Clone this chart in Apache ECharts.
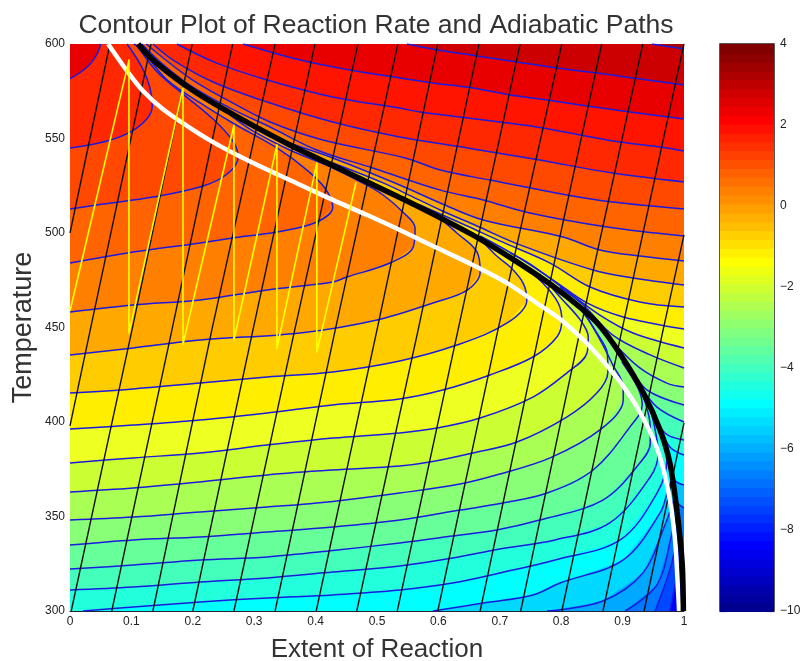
<!DOCTYPE html>
<html><head><meta charset="utf-8">
<style>html,body{margin:0;padding:0;background:#fff}#c{width:805px;height:661px}</style>
<script src="https://cdn.jsdelivr.net/npm/echarts@6/dist/echarts.min.js"></script>
</head><body><div id="c"></div>
<script>
const titleText='Contour Plot of Reaction Rate and Adiabatic Paths';
const xName='Extent of Reaction', yName='Temperature';
const equilibriumCurve=[[.111,600],[.13,593.1],[.163,584.1],[.204,574.6],[.244,566.7],[.293,557.7],[.358,546.6],[.423,536.5],[.484,527],[.549,516.9],[.607,507.4],[.668,496.8],[.721,486.2],[.782,473],[.836,459.3],[.863,450.8],[.896,436],[.933,415.9],[.961,395.8],[.977,378.3],[.989,351.9],[.997,325.4],[.999,300]];
const optimalCurve=[[.062,600],[.093,585.7],[.119,575.1],[.151,565.6],[.191,556.6],[.233,548.1],[.272,541.3],[.326,532.8],[.379,524.9],[.428,517.5],[.484,509.5],[.537,501.6],[.591,493.1],[.656,483.1],[.712,473.5],[.765,461.9],[.798,454.5],[.831,445],[.858,436],[.896,421.2],[.928,405.3],[.956,386.2],[.974,364],[.985,339.2],[.990,312.7],[.992,300]];
const stagePath=[[0,458.7],[.096,591.5],[.096,447],[.184,576.7],[.184,441],[.267,557],[.267,443.4],[.337,546.6],[.337,439],[.402,537],[.402,437],[.466,527]];

// contours below the equilibrium curve (outer level last)
const c1=[[0,581.5],[.028,587.8],[.044,594.7],[.05,600]];
const c2=[[0,545],[.054,548.1],[.098,553.4],[.125,560.3],[.134,567.2],[.13,577.2],[.117,587.8],[.093,600]];
const c3=[[0,512.7],[.054,515.3],[.135,519],[.217,524.9],[.256,531.2],[.274,540.2],[.265,548.7],[.233,560.3],[.184,573.5],[.142,585.2],[.109,598.9],[.104,600]];
const c4=[[0,484.1],[.103,489.9],[.212,494.7],[.265,497.4],[.337,500.5],[.402,505.8],[.428,513.8],[.415,523.8],[.386,533.3],[.337,545],[.265,558.2],[.212,568.8],[.158,581],[.122,595.2],[.112,600]];
const c5=[[0,458.2],[.103,461.9],[.212,464.6],[.321,469.8],[.428,474.1],[.451,476.7],[.521,484.1],[.559,492.6],[.562,502.6],[.542,511.1],[.51,520.1],[.48,525.9],[.428,534.4],[.358,543.9],[.298,554],[.261,562.4]];
const c6=[[0,435.5],[.103,439.2],[.212,443.4],[.375,447.1],[.5,454],[.591,463],[.647,469.8],[.668,479.4],[.663,489.9],[.63,500],[.603,507.4],[.57,513.2],[.537,518.5]];
const c7=[[0,415.3],[.103,417.5],[.212,420.6],[.321,423.8],[.428,426.5],[.537,432.3],[.63,440.7],[.712,452.4],[.744,464.6],[.738,473.5],[.717,482],[.695,487.8],[.668,496.3],[.635,503.2]];
const c8=[[0,396.3],[.103,398.4],[.212,401.1],[.321,404.8],[.428,409],[.537,412.2],[.607,416.9],[.684,424.9],[.754,434.4],[.793,445],[.801,454],[.795,463],[.77,473.5],[.733,484.1],[.7,491.5]];
const c9=[[0,378.3],[.103,381],[.212,383.6],[.321,387.8],[.428,391.5],[.537,394.2],[.598,396.8],[.668,402.1],[.754,413.2],[.809,425.9],[.842,436.5],[.844,445],[.831,454],[.798,466.1],[.765,478.3]];
const c10=[[0,363],[.103,365.1],[.212,368.3],[.321,372],[.428,374.6],[.537,376.7],[.586,378.8],[.656,383.6],[.728,389.4],[.809,402.6],[.858,415.3],[.876,426.5],[.875,436.5],[.858,447.1],[.836,457.7],[.811,466.1]];
const c11=[[0,348.1],[.103,349.7],[.212,352.4],[.321,355],[.428,358],[.537,362.4],[.635,367.2],[.7,372.5],[.782,381],[.863,395.8],[.901,411.6],[.901,418.5],[.884,430.2],[.868,440.7],[.847,452.9],[.831,461.4]];
const c12=[[0,334.9],[.103,337.6],[.212,339.2],[.321,341.8],[.428,344.4],[.537,348.1],[.635,353.4],[.705,357.1],[.777,362.4],[.852,374.6],[.912,397.4],[.932,409],[.925,418],[.899,431.7]];
const c13=[[0,322.2],[.103,324.3],[.212,327],[.321,328.6],[.428,332],[.537,336],[.623,339.7],[.695,342.9],[.765,348.1],[.868,358.7],[.928,378.3],[.945,388.9],[.945,397.4],[.93,416.9]];
const c14=[[0,311.1],[.103,312.7],[.212,315.3],[.321,317.5],[.428,320.6],[.537,323.8],[.623,328],[.7,332.8],[.79,337.6],[.879,346.6],[.945,370.9],[.958,383.6],[.953,395.8],[.945,407.4]];
const c15=[[.021,300],[.103,302.1],[.212,304.8],[.321,306.9],[.428,308.5],[.537,311.1],[.623,314.8],[.7,320.1],[.79,327],[.896,337.6],[.956,362.4],[.972,379.9],[.969,386.8]];
const c16=[[.591,300],[.673,304.2],[.754,308.5],[.798,314.8],[.901,327],[.961,351.9],[.974,364],[.98,369.3]];
const c17=[[.777,300],[.868,305.3],[.933,320.1],[.969,345.5],[.984,359.8]];
const c18=[[.904,300],[.956,313.8],[.98,340.2],[.989,352.4]];
const c19=[[.953,300],[.977,321.7],[.992,342.9]];
const c20=[[.977,300],[.99,321.7],[.995,333.3]];
const belowContours=[c20,c19,c18,c17,c16,c15,c14,c13,c12,c11,c10,c9,c8,c7,c6,c5,c4,c3,c2,c1];
const belowColors=['#0048ff','#0078ff','#00a8ff','#00d8ff','#00ffff','#22ffdd','#44ffbb','#66ff99','#88ff77','#aaff55','#ccff33','#eeff22','#ffee00','#ffcc00','#ffa800','#ff8000','#ff6400','#ff4800','#ff2800','#e80000'];
const belowBase='#0000ff';

// contours above the equilibrium curve
const d1=[[1,597.4],[.948,600]];
const d2=[[1,578.3],[.917,582],[.858,584.7],[.793,587.3],[.728,590.5],[.663,593.7],[.599,596.8],[.549,600]];
const d3=[[1,560.3],[.912,564],[.842,567.2],[.777,570.4],[.717,573],[.656,576.7],[.591,579.4],[.537,582],[.456,586.2],[.375,591.5],[.282,600]];
const d4=[[1,543.4],[.961,545.5],[.896,548.1],[.831,551.9],[.77,555.6],[.7,558.7],[.635,561.4],[.57,564],[.537,566.1],[.428,572],[.321,581],[.239,589.9],[.174,600]];
const d5=[[1,527],[.884,531.7],[.765,538.6],[.647,545],[.537,550.8],[.428,558.7],[.321,569.3],[.233,579.9],[.168,591.5],[.135,600]];
const d6=[[1,512.7],[.884,516.4],[.809,520.1],[.684,528],[.603,533.3],[.546,539.7],[.412,549.2],[.326,558.7],[.256,570.4],[.195,582],[.124,600]];
const d7=[[1,498.4],[.875,503.2],[.749,510.6],[.673,517.5],[.603,522.7],[.493,534.4],[.402,543.9],[.326,556.1],[.261,566.1],[.195,578.3],[.147,590.5],[.117,600]];
const d8=[[1,485.2],[.928,487.8],[.863,491],[.803,497.9],[.673,506.9],[.603,515.9],[.537,525.4],[.428,539.7],[.358,547.6],[.298,555.6]];
const d9=[[1,472.5],[.917,476.2],[.852,480.4],[.733,493.7],[.663,503.7],[.603,512.2],[.559,519],[.51,526.5],[.428,537]];
const d10=[[1,460.8],[.928,463.5],[.847,471.4],[.782,484.1],[.7,495.8],[.647,503.7],[.57,514.8]];
const d11=[[1,449.2],[.901,455.6],[.842,463],[.787,475.1],[.721,488.9],[.668,498.4]];
const d12=[[1,439.2],[.917,447.1],[.863,456.6],[.803,470.9],[.749,483.6],[.717,489.4]];
const d13=[[1,428.6],[.945,435.5],[.884,446],[.836,461.9],[.798,471.4]];
const d14=[[1,418.5],[.972,420.6],[.928,428.6],[.884,442.3],[.855,454]];
const d15=[[1,409],[.94,416.9],[.909,430.2],[.888,440.7]];
const d16=[[1,400],[.956,407.9],[.928,419.6]];
const d17=[[1,390.5],[.969,394.2],[.948,406.3]];
const d18=[[1,382.5],[.977,386.8],[.964,395.8]];
const d19=[[1,366.7],[.985,369.3],[.979,378.3]];
const d20=[[1,354.5],[.99,357.1],[.985,361.4]];
const aboveContours=[d20,d19,d18,d17,d16,d15,d14,d13,d12,d11,d10,d9,d8,d7,d6,d5,d4,d3,d2,d1];
const aboveColors=['#00c0ff','#00ffff','#22ffdd','#44ffbb','#66ff99','#88ff77','#aaff55','#ccff33','#eeff22','#ffee00','#ffcc00','#ffa800','#ff8000','#ff6400','#ff4800','#ff2800','#ff1400','#e80000','#cc0000','#a80000'];
const aboveBase='#0080ff';

// adiabatic operating lines
const adiabats=[
 [[0,500],[.065,600]],
 [[0,398],[.033,448.7],[.132,600]],
 [[.002,300],[.101,448.7],[.199,600]],
 [[.068,300],[.166,448.7],[.265,600]],
 [[.135,300],[.231,448.7],[.334,600]],
 [[.2,300],[.298,448.7],[.399,600]],
 [[.267,300],[.366,448.7],[.469,600]],
 [[.334,300],[.432,448.7],[.534,600]],
 [[.401,300],[.5,448.7],[.599,600]],
 [[.467,300],[.567,448.7],[.666,600]],
 [[.533,300],[.632,448.7],[.733,600]],
 [[.599,300],[.697,448.7],[.801,600]],
 [[.668,300],[.765,448.7],[.866,600]],
 [[.734,300],[.831,448.7],[.933,600]],
 [[.801,300],[.899,448.7],[1,600]],
 [[.868,300],[.966,448.7],[1,499]],
 [[.935,300],[1,399.5]]
];
const xTicks=['0','0.1','0.2','0.3','0.4','0.5','0.6','0.7','0.8','0.9','1'];
const colorbarLevels=[-10,-9.78,-9.56,-9.34,-9.13,-8.91,-8.69,-8.47,-8.25,-8.03,-7.81,-7.59,-7.38,-7.16,-6.94,-6.72,-6.5,-6.28,-6.06,-5.84,-5.63,-5.41,-5.19,-4.97,-4.75,-4.53,-4.31,-4.09,-3.88,-3.66,-3.44,-3.22,-3,-2.78,-2.56,-2.34,-2.13,-1.91,-1.69,-1.47,-1.25,-1.03,-.81,-.59,-.38,-.16,.06,.28,.5,.72,.94,1.16,1.38,1.59,1.81,2.03,2.25,2.47,2.69,2.91,3.13,3.34,3.56,3.78,4];
const colorbarColors=['#00008f','#00009f','#0000af','#0000bf','#0000cf','#0000df','#0000ef','#0000ff','#0010ff','#0020ff','#0030ff','#0040ff','#0050ff','#0060ff','#0070ff','#0080ff','#008fff','#009fff','#00afff','#00bfff','#00cfff','#00dfff','#00efff','#00ffff','#10ffef','#20ffdf','#30ffcf','#40ffbf','#50ffaf','#60ff9f','#70ff8f','#80ff80','#8fff70','#9fff60','#afff50','#bfff40','#cfff30','#dfff20','#efff10','#ffff00','#ffef00','#ffdf00','#ffcf00','#ffbf00','#ffaf00','#ff9f00','#ff8f00','#ff8000','#ff7000','#ff6000','#ff5000','#ff4000','#ff3000','#ff2000','#ff1000','#ff0000','#ef0000','#df0000','#cf0000','#bf0000','#af0000','#9f0000','#8f0000','#800000'];

const font='"Liberation Sans",Arial,sans-serif';
function tail(line){
  const last=line[line.length-1];
  if(last[1]>=600) return [];
  return equilibriumCurve.filter(p=>p[0]<last[0]).reverse();
}
const bands=[];
bands.push({pts:[[0,300],[1,300],[1,600],[0,600]],color:belowBase});
belowContours.forEach((l,i)=>{
  const pts=l.concat(tail(l),[[0,600]]);
  if(l[0][0]>0) pts.push([0,300]);
  bands.push({pts,color:belowColors[i]});
});
bands.push({pts:equilibriumCurve.concat([[1,300],[1,600]]),color:aboveBase});
aboveContours.forEach((l,i)=>{
  bands.push({pts:l.concat(tail(l),[[1,600]]),color:aboveColors[i]});
});
const lineSeries=(data,color,width,z,smooth)=>({type:'line',data,xAxisIndex:0,yAxisIndex:0,showSymbol:false,symbol:'none',silent:true,clip:true,smooth:smooth||false,z,lineStyle:{color,width,cap:'butt',join:'round'}});
const series=[{
  type:'custom',xAxisIndex:0,yAxisIndex:0,silent:true,z:1,clip:true,
  data:bands.map((b,i)=>[i]),encode:{x:0,y:0},
  renderItem:(p,api)=>{const b=bands[api.value(0)];return {type:'polygon',shape:{points:b.pts.map(q=>api.coord(q))},style:{fill:b.color,stroke:b.color,lineWidth:.5}};}
},{
  type:'custom',xAxisIndex:1,yAxisIndex:1,silent:true,z:1,
  data:colorbarColors.map((c,i)=>[i]),encode:{x:0,y:0},
  renderItem:(p,api)=>{const i=api.value(0);const a=api.coord([0,colorbarLevels[i]]),b=api.coord([1,colorbarLevels[i+1]]);
    return {type:'rect',shape:{x:a[0],y:b[1],width:b[0]-a[0],height:a[1]-b[1]+1},style:{fill:colorbarColors[i]}};}
}];
belowContours.concat(aboveContours).forEach(l=>series.push(lineSeries(l,'#1a1ae0',1.5,3,.35)));
adiabats.forEach(l=>series.push(lineSeries(l,'#111',1.4,4)));
series.push(lineSeries(optimalCurve,'#fff',4.5,5,.3));
series.push(lineSeries(equilibriumCurve,'#000',5.5,6,.3));
series.push(lineSeries(stagePath,'#ffff00',1.6,7));

const tickLabel={color:'#222',fontFamily:font,fontSize:12};
const option={
  animation:false,backgroundColor:'#fff',
  title:{text:titleText,left:371,top:7,textAlign:'center',textStyle:{fontFamily:font,fontSize:26.5,fontWeight:'normal',color:'#333'}},
  grid:[{left:70,top:44,width:614,height:567,containLabel:false,outerBoundsMode:'none'},{left:720,top:44,width:54,height:567,show:true,backgroundColor:'transparent',borderColor:'#222',borderWidth:1.5,outerBoundsMode:'none'}],
  xAxis:[{type:'value',gridIndex:0,min:0,max:1,interval:.1,name:xName,nameLocation:'middle',nameGap:26,nameTextStyle:{fontFamily:font,fontSize:26,color:'#333'},
    axisLine:{show:true,onZero:false,lineStyle:{color:'#223',width:1.2}},axisTick:{show:false},splitLine:{show:false},axisLabel:Object.assign({margin:5,formatter:(v,i)=>xTicks[i]},tickLabel)},
   {type:'value',gridIndex:1,min:0,max:1,show:false}],
  yAxis:[{type:'value',gridIndex:0,min:300,max:600,interval:50,name:yName,nameLocation:'middle',nameGap:33,nameMoveOverlap:false,nameRotate:90,nameTextStyle:{fontFamily:font,fontSize:27,color:'#333'},
    axisLine:{show:false},axisTick:{show:false},splitLine:{show:false},axisLabel:Object.assign({margin:5},tickLabel)},
   {type:'value',gridIndex:1,min:-10,max:4,interval:2,position:'left',axisLine:{show:false},axisTick:{show:true,inside:true,length:7,lineStyle:{color:'#222',width:1.2}},axisLabel:{show:false},splitLine:{show:false}},
   {type:'value',gridIndex:1,min:-10,max:4,interval:2,position:'right',axisLine:{show:false},axisTick:{show:true,inside:true,length:7,lineStyle:{color:'#222',width:1.2}},splitLine:{show:false},
    axisLabel:Object.assign({margin:6,formatter:v=>String(v).replace('-','\u2212')},tickLabel)}],
  series
};
echarts.init(document.getElementById('c'),null,{renderer:'canvas'}).setOption(option);
</script></body></html>
